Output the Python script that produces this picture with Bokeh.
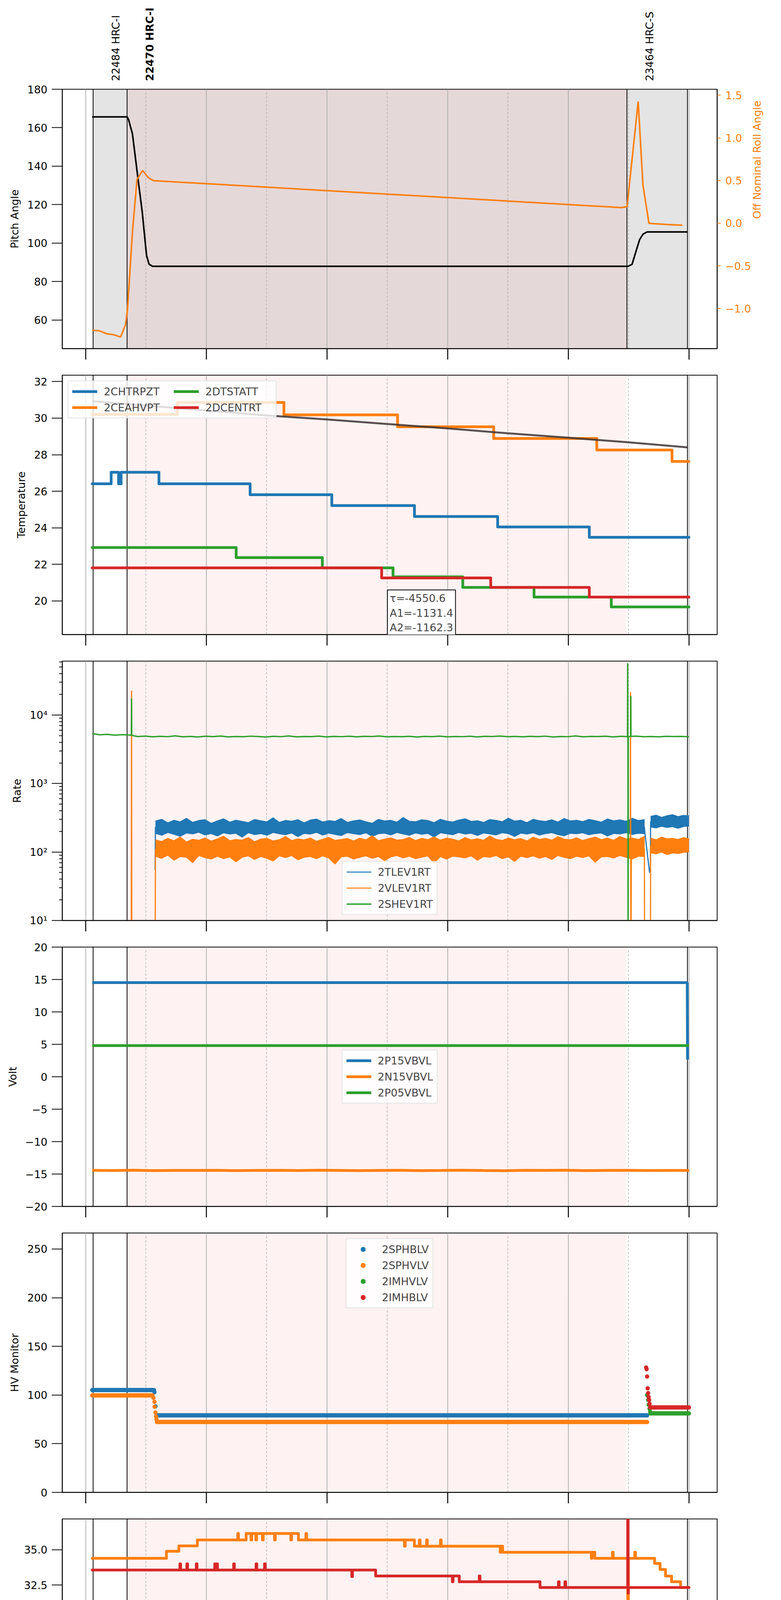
import math
import numpy as np
from bokeh.plotting import figure
from bokeh.models import (Range1d, LinearAxis, FixedTicker, Grid, BoxAnnotation,
                          Span, Label, Legend, LegendItem)
from bokeh.core.properties import value
from bokeh.layouts import column
from bokeh.embed import file_html
from bokeh.resources import INLINE

FONT = "DejaVu Sans"
BLUE, ORANGE, GREEN, RED = "#1f77b4", "#ff7f0e", "#2ca02c", "#d62728"

# time axis, hours since 2021-03-22 00:00
X_LIMITS = (21.612, 32.466)
MAJOR_HOURS = [22, 24, 26, 28, 30, 32]
MAJOR_LABELS = ["22h", "00h", "02h", "04h", "06h", "08h"]
MINOR_HOURS = [23, 25, 27, 29, 31]
MINOR_LABELS = ["23h", "01h", "03h", "05h", "07h"]
T_END = 31.998
DATE_LABEL = "2021-03-23 (082)"

# obsids
OBS_START = [22.123, 22.686, 30.971]
OBS_END = 31.974
OBS_NAMES = ["22484 HRC-I", "22470 HRC-I", "23464 HRC-S"]
OBS_BOLD = [False, True, False]

# panel 1: pitch / roll
PITCH_T = [22.106, 22.686, 22.710, 22.775, 22.828, 22.882, 22.937, 22.969, 23.008, 23.05,
           23.107, 30.99, 31.055, 31.123, 31.18, 31.237, 31.305, 31.974]
PITCH_V = [165.6, 165.6, 164.3, 156.8, 143.3, 129.7, 116.2, 106.0, 93.7, 89.0,
           87.9, 87.9, 88.9, 95.9, 101.7, 104.6, 105.8, 105.8]
ROLL_T = [22.107, 22.223, 22.347, 22.471, 22.578, 22.660, 22.693, 22.775, 22.850, 22.943,
          23.038, 23.124, 30.880, 30.973, 31.157, 31.236, 31.335, 31.405, 31.664, 31.890]
ROLL_V = [-1.255, -1.26, -1.295, -1.308, -1.334, -1.19, -1.005, -0.10, 0.511, 0.618,
          0.534, 0.499, 0.183, 0.194, 1.427, 0.45, 0.0, -0.005, -0.016, -0.023]

# panel 2: temperatures
CHTRPZT_T = [22.108, 22.422, 22.545, 22.587, 23.214, 24.725, 26.079, 27.449, 28.828, 30.347]
CHTRPZT_V = [26.41, 27.04, 26.41, 27.04, 26.41, 25.81, 25.22, 24.62, 24.05, 23.48]
CEAHVPT_T = [22.108, 23.52, 25.286, 27.169, 28.762, 30.471, 31.718]
CEAHVPT_V = [30.20, 30.86, 30.18, 29.53, 28.89, 28.26, 27.63]
DTSTATT_T = [22.108, 24.494, 25.922, 27.094, 28.25, 29.431, 30.711]
DTSTATT_V = [22.92, 22.37, 21.81, 21.32, 20.74, 20.21, 19.67]
DCENTRT_T = [22.108, 26.905, 28.713, 30.347]
DCENTRT_V = [21.81, 21.26, 20.74, 20.21]
MODEL_T = [22.108, 24.0, 24.997, 25.996, 27.003, 28.002, 29.002, 30.0, 30.991, 31.974]
MODEL_V = [30.93, 30.42, 30.15, 29.93, 29.68, 29.44, 29.17, 28.93, 28.68, 28.40]
FIT_TEXT = "τ=-4550.6\nA1=-1131.4\nA2=-1162.3"
FIT_POS = (27.0, 20.6)

# panel 3: rates
TLEV_A = (23.156, 31.264)
TLEV_A_HI = [282, 300, 266, 290, 275, 310, 270, 288, 296, 262, 284, 305, 272, 291, 279, 268,
             298, 286, 275, 315, 270, 289, 281, 296, 266, 292, 302, 274, 287, 279, 308, 270,
             285, 293, 276, 262, 299, 284, 290, 272, 318, 281, 276, 295, 288, 268, 300, 283,
             274, 292, 305, 279, 286, 270, 297, 289, 276, 312, 282, 291, 268, 300, 286, 279,
             295, 273, 308, 284, 290, 277, 299, 287, 272, 303, 285, 294, 280, 310, 288, 296]
TLEV_A_LO = [188, 176, 193, 182, 170, 190, 184, 195, 178, 186, 172, 191, 183, 188, 165, 192,
             180, 186, 176, 193, 185, 179, 190, 168, 187, 183, 194, 177, 189, 181, 174, 192,
             186, 180, 191, 170, 185, 189, 178, 193, 184, 176, 190, 182, 187, 166, 191, 185,
             179, 193, 183, 188, 175, 190, 184, 178, 192, 186, 169, 189, 183, 191, 177, 186,
             192, 180, 173, 188, 185, 191, 179, 186, 190, 172, 187, 184, 192, 181, 188, 185]
TLEV_B = (31.363, 31.998)
TLEV_B_HI = [330, 345, 320, 338, 350, 328, 342, 336]
TLEV_B_LO = [232, 225, 238, 228, 235, 222, 236, 240]
TLEV_EDGE_T = [23.150, 23.156, 31.26, 31.27, 31.346, 31.36, 31.363]
TLEV_EDGE_V = [55, 231, 231, 185, 50, 60, 280]
VLEV_A_HI = [150, 142, 158, 146, 165, 140, 153, 148, 160, 144, 155, 170, 146, 152, 149, 162,
             141, 154, 158, 145, 151, 168, 147, 155, 150, 160, 143, 153, 163, 148, 152, 157,
             145, 159, 150, 172, 146, 154, 161, 149, 152, 163, 147, 158, 151, 166, 149, 159,
             154, 145, 162, 150, 156, 148, 171, 153, 147, 160, 151, 157, 145, 164, 152, 158,
             149, 167, 154, 150, 161, 147, 156, 165, 151, 159, 148, 168, 155, 160, 152, 170]
VLEV_A_LO = [87, 81, 90, 76, 86, 84, 70, 89, 83, 79, 87, 80, 85, 72, 84, 88, 78, 86, 81, 74,
             88, 83, 89, 77, 84, 86, 80, 88, 82, 67, 85, 87, 79, 84, 88, 81, 86, 75, 85, 89,
             82, 87, 80, 84, 88, 69, 86, 79, 87, 85, 82, 88, 76, 86, 84, 89, 80, 85, 73, 87,
             83, 88, 81, 86, 78, 89, 84, 80, 87, 83, 88, 71, 85, 86, 82, 89, 84, 79, 87, 86]
VLEV_B_HI = [160, 150, 165, 155, 158, 152, 162, 155]
VLEV_B_LO = [98, 94, 100, 92, 97, 95, 99, 101]
VLEV_EDGE_T = [22.755, 22.76, 22.765, 23.150, 23.156, 31.027, 31.03, 31.036, 31.045,
               31.26, 31.265, 31.36, 31.363]
VLEV_EDGE_V = [1, 22700, 1, 1, 110, 110, 21600, 1, 120, 110, 1, 1, 123]
SHEV_V = [5350, 5150, 5220, 5080, 5160, 5100, 4850, 4920, 4800, 4890, 4830, 4960, 4810, 4870,
          4780, 4900, 4840, 4930, 4790, 4860, 4820, 4910, 4850, 4770, 4880, 4830, 4950, 4800,
          4860, 4840, 4920, 4790, 4870, 4830, 4900, 4810, 4880, 4850, 4940, 4800, 4860, 4820,
          4890, 4780, 4870, 4840, 4920, 4810, 4860, 4830, 4900, 4790, 4880, 4850, 4930, 4820,
          4870, 4800, 4890, 4840, 4910, 4780, 4860, 4830, 4950, 4810, 4870, 4850, 4900, 4790,
          4880, 4840, 4920, 4820, 4860, 4800, 4890, 4850, 4870, 4830]
SHEV_SPIKES = [(22.76, 17400), (30.983, 57000), (30.99, 1), (31.035, 19000)]

# panel 4: voltages
P15_T = [22.108, 31.970, 31.975]
P15_V = [14.52, 14.52, 2.65]
P05_T = [22.108, 31.998]
P05_V = [4.8, 4.8]
N15_V = [-14.43, -14.46, -14.42, -14.47, -14.44, -14.45, -14.43, -14.48, -14.44, -14.43,
         -14.46, -14.42, -14.45, -14.48, -14.44, -14.43, -14.47, -14.45, -14.42, -14.46,
         -14.49, -14.43, -14.45, -14.42, -14.47, -14.44, -14.43, -14.46, -14.44, -14.45]

# panel 5: HV monitors (plateaus + transition samples)
SPHBLV_SEG = ([22.108, 23.19], [23.132, 31.305], [105.1, 79.1])
SPHBLV_PTS = ([23.14, 23.156], [103.0, 88.4])
SPHVLV_SEG = ([22.108, 23.18], [23.107, 31.305], [99.6, 72.3])
SPHVLV_PTS = ([23.123, 23.140, 23.142, 23.156, 23.165, 23.173], [97, 93, 88, 82, 78, 75])
IMHVLV_SEG = ([31.36], [31.998], [81.1])
IMHVLV_PTS = ([31.305, 31.322, 31.33, 31.346, 31.355], [100, 95, 90, 86, 83])
IMHBLV_SEG = ([31.355], [31.998], [87.3])
IMHBLV_PTS = ([31.289, 31.297, 31.305, 31.314, 31.322, 31.33, 31.338, 31.346],
              [128.3, 126.5, 119, 106.9, 102, 98, 95, 91])

# panel 6: detector temperatures
SPINATM_T = [22.108, 28.415, 31.222]
SPINATM_V = [20.99, 20.30, 19.62]
SPINATM_SPIKES = [(28.30, 20.30)]
SPHVATM_T = [22.108, 23.338, 23.544, 23.85, 24.659, 25.526, 27.449, 28.911, 30.438, 31.429,
             31.52, 31.61, 31.71, 31.86]
SPHVATM_V = [34.39, 34.89, 35.27, 35.69, 36.15, 35.69, 35.25, 34.82, 34.39, 34.03,
             33.60, 33.13, 32.73, 32.32]
SPHVATM_SPIKES = [(24.52, 36.15), (24.74, 35.69), (24.82, 35.69), (24.93, 35.69), (25.13, 35.69),
                  (25.40, 35.69), (25.65, 36.15), (27.284, 35.25), (27.53, 35.69), (27.65, 35.69),
                  (27.88, 35.69), (28.87, 34.82), (30.38, 34.39), (30.73, 34.82), (30.983, 0.0),
                  (31.10, 34.82)]
IMINATM_T = [22.108, 25.40, 27.672, 27.72, 27.80, 29.654, 31.83]
IMINATM_V = [22.41, 21.70, 20.99, 21.70, 20.99, 20.26, 19.62]
IMINATM_SPIKES = [(25.32, 21.70), (29.32, 20.26), (31.69, 19.62), (30.983, 0.0)]
IMHVATM_T = [22.108, 26.806, 28.192, 29.53, 30.991, 31.61]
IMHVATM_V = [33.56, 33.14, 32.73, 32.32, 31.93, 32.32]
IMHVATM_SPIKES = [(23.561, 34.0), (23.677, 34.0), (23.833, 34.0), (24.139, 34.0), (24.172, 34.0),
                  (24.452, 34.0), (24.824, 34.0), (24.964, 34.0), (26.41, 33.1), (28.077, 32.73),
                  (28.523, 33.14), (29.835, 32.73), (29.943, 32.73), (30.983, 45.0)]

# panel 7: FEA temperatures
FHTRMZT_T = [22.108, 23.487, 24.246, 25.014, 25.815, 26.64, 27.524, 28.456, 29.472, 30.62]
FHTRMZT_V = [25.80, 25.22, 24.64, 24.05, 23.48, 22.92, 22.35, 21.82, 21.27, 20.72]
FRADPYT_T = [22.108, 23.09, 23.338, 23.71, 24.23, 24.865, 25.567, 26.294, 27.094, 27.936,
             28.853, 29.918, 31.115, 31.363]
FRADPYT_V = [21.26, 20.74, 20.22, 19.69, 19.17, 18.65, 18.15, 17.65, 17.15, 16.66,
             16.19, 15.71, 15.24, 15.71]
FEPRATM_T = [22.108, 24.139, 25.36, 26.599, 27.903, 29.39, 31.165]
FEPRATM_V = [26.97, 26.17, 25.39, 24.64, 23.89, 23.14, 22.42]
FEPRATM_SPIKES = [(27.82, 23.89), (31.47, 23.2), (30.983, 40.0)]
FE00ATM_T = [22.108, 23.297, 23.90, 24.452, 25.03, 25.567, 26.186, 26.806, 27.466, 28.11,
             28.853, 29.61, 30.438, 31.47]
FE00ATM_V = [24.95, 24.62, 24.29, 23.95, 23.62, 23.30, 22.99, 22.66, 22.34, 22.02,
             21.71, 21.39, 21.09, 20.79]
FE00ATM_SPIKES = [(23.379, 23.9), (23.454, 25.0), (23.726, 24.2), (23.998, 23.9), (24.064, 24.7),
                  (24.700, 24.3), (24.741, 23.6), (25.097, 24.7), (25.650, 24.0), (25.856, 24.0),
                  (26.500, 22.6), (26.599, 23.6), (26.847, 24.0), (27.119, 22.0), (27.317, 22.3),
                  (27.821, 22.0), (28.275, 23.0), (28.349, 21.7), (28.605, 22.7), (28.671, 20.4),
                  (28.944, 22.7), (28.968, 21.3), (29.216, 22.4), (29.323, 21.9), (30.504, 21.8),
                  (30.587, 21.3), (30.702, 22.1), (30.785, 20.7), (30.925, 21.8), (31.148, 20.7),
                  (31.247, 20.7), (31.445, 20.1), (31.594, 21.8), (31.734, 21.1), (31.842, 21.1),
                  (31.965, 21.1), (30.983, 0.0)]

W = 1984
LEFT, RIGHT = 159, 148
HEADER_H = 208
XR = Range1d(*X_LIMITS)


def steps(t, v, spikes=(), dt=0.012):
    xs = list(t) + [T_END]
    ys = list(v) + [v[-1]]
    for st, sv in spikes:
        base = v[int(np.searchsorted(t, st, side="right")) - 1]
        xs += [st, st + dt]
        ys += [sv, base]
    order = np.argsort(xs, kind="stable")
    return np.array(xs)[order], np.array(ys)[order]


def line_spikes(t, v, spikes, eps=0.003):
    xs, ys = list(t), list(v)
    for st, sv in spikes:
        b = float(np.interp(st, t, v))
        xs += [st - eps, st, st + eps]
        ys += [b, sv, b]
    order = np.argsort(xs, kind="stable")
    return np.array(xs)[order], np.array(ys)[order]


def style_axis(ax):
    ax.axis_line_color = "black"
    ax.axis_line_width = 2
    ax.major_tick_line_color = "black"
    ax.major_tick_line_width = 2
    ax.minor_tick_line_color = "black"
    ax.minor_tick_line_width = 2
    ax.major_tick_in = 0
    ax.minor_tick_in = 0
    ax.minor_tick_out = 0
    ax.major_label_text_font = FONT
    ax.major_label_text_font_size = "27px"
    ax.major_label_text_color = "black"
    ax.axis_label_text_font = FONT
    ax.axis_label_text_font_size = "27px"
    ax.axis_label_text_font_style = "normal"
    ax.axis_label_text_color = "black"


def make_fig(y_range, label, ticks, height, top, bottom, y_type="linear", overrides=None):
    p = figure(width=W, height=height, x_range=XR, y_range=y_range, y_axis_type=y_type,
               x_axis_location=None, toolbar_location=None, output_backend="svg",
               min_border_left=LEFT, min_border_right=RIGHT,
               min_border_top=top, min_border_bottom=bottom)
    p.outline_line_color = "black"
    p.outline_line_width = 2
    p.grid.visible = False
    ax = p.yaxis[0]
    style_axis(ax)
    ax.ticker = FixedTicker(ticks=ticks)
    ax.major_tick_out = 27
    ax.major_label_standoff = 11
    ax.axis_label = label
    ax.axis_label_standoff = 14
    if overrides:
        ax.major_label_overrides = overrides
    return p


def decorate(p, first=False):
    if first:
        p.add_layout(BoxAnnotation(left=OBS_START[0], right=OBS_END, fill_color="#808080",
                                   fill_alpha=0.21, line_color=None, level="underlay"))
    p.add_layout(BoxAnnotation(left=OBS_START[1], right=OBS_START[2], fill_color="#ff0000",
                               fill_alpha=0.05, line_color=None, level="underlay"))
    p.add_layout(Grid(dimension=0, ticker=FixedTicker(ticks=MAJOR_HOURS, minor_ticks=MINOR_HOURS),
                      grid_line_color="#b0b0b0", grid_line_width=2,
                      minor_grid_line_color="#b0b0b0", minor_grid_line_width=1.5,
                      minor_grid_line_dash="6 4"))
    spans = OBS_START + [OBS_END] if first else [OBS_START[0], OBS_START[1], OBS_END]
    for t in spans:
        p.add_layout(Span(location=t, dimension="height", line_color="black",
                          line_width=2, level="underlay"))


def x_axes(p, labels=False):
    if not labels:
        ax = LinearAxis(ticker=FixedTicker(ticks=[], minor_ticks=MAJOR_HOURS))
        style_axis(ax)
        ax.major_tick_out = 0
        ax.minor_tick_out = 28
        ax.minor_tick_line_width = 2.5
        p.add_layout(ax, "below")
        return
    ax1 = LinearAxis(ticker=FixedTicker(ticks=MINOR_HOURS, minor_ticks=MAJOR_HOURS))
    style_axis(ax1)
    ax1.major_tick_out = 0
    ax1.minor_tick_out = 28
    ax1.minor_tick_line_width = 2.5
    ax1.major_label_text_font_size = "19px"
    ax1.major_label_standoff = 4
    ax1.major_label_overrides = dict(zip(MINOR_HOURS, MINOR_LABELS))
    p.add_layout(ax1, "below")
    ax2 = LinearAxis(ticker=FixedTicker(ticks=MAJOR_HOURS))
    style_axis(ax2)
    ax2.axis_line_color = None
    ax2.major_tick_out = 0
    ax2.major_label_standoff = 2
    ax2.major_label_overrides = dict(zip(MAJOR_HOURS, MAJOR_LABELS))
    ax2.axis_label = DATE_LABEL
    ax2.axis_label_text_font_size = "33px"
    ax2.axis_label_standoff = 6
    p.add_layout(ax2, "below")


def add_legend(p, items, location, ncols=1, label_width=20):
    lg = Legend(items=[LegendItem(label=l, renderers=[r]) for l, r in items],
                location=location, ncols=ncols, label_width=label_width,
                label_text_font=FONT, label_text_font_size="27px", label_height=32,
                glyph_height=32, glyph_width=64, label_standoff=17, spacing=9, padding=10,
                margin=14, border_line_color="#cccccc", border_line_width=2,
                background_fill_color="white", background_fill_alpha=0.8)
    p.add_layout(lg)


def step_line(p, xy, color, width=7):
    return p.step(xy[0], xy[1], mode="after", line_color=color, line_width=width,
                  line_join="round", line_cap="round")


# ---- header with obsid names
p0 = figure(width=W, height=HEADER_H, x_range=XR, y_range=Range1d(0, HEADER_H),
            x_axis_location=None, y_axis_location=None, toolbar_location=None,
            output_backend="svg", min_border_left=LEFT, min_border_right=RIGHT,
            min_border_top=0, min_border_bottom=0, outline_line_color=None)
p0.grid.visible = False
LABEL_SHIFT = 0.375   # hours between obsid start line and label baseline
for t, name, bold in zip(OBS_START, OBS_NAMES, OBS_BOLD):
    p0.text(x=[t + LABEL_SHIFT], y=[1], text=[name], angle=math.pi / 2,
            text_font=value(FONT), text_font_size="27px",
            text_font_style="bold" if bold else "normal",
            text_align="left", text_baseline="alphabetic", text_color="black")

# ---- panel 1
p1 = make_fig(Range1d(45.07, 180), "Pitch Angle", [60, 80, 100, 120, 140, 160, 180],
              724, 20, 40)
decorate(p1, first=True)
p1.extra_y_ranges = {"roll": Range1d(-1.47, 1.57)}
rax = LinearAxis(y_range_name="roll", axis_label="Off Nominal Roll Angle")
style_axis(rax)
rax.ticker = FixedTicker(ticks=[-1.0, -0.5, 0.0, 0.5, 1.0, 1.5])
rax.major_label_overrides = {-1.0: "−1.0", -0.5: "−0.5", 0.0: "0.0", 0.5: "0.5",
                             1.0: "1.0", 1.5: "1.5"}
rax.major_tick_out = 9
rax.major_tick_line_color = ORANGE
rax.major_label_text_color = ORANGE
rax.axis_label_text_color = ORANGE
rax.major_label_standoff = 12
rax.axis_label_standoff = 12
rax.axis_label_orientation = math.pi / 2
p1.add_layout(rax, "right")
p1.line(PITCH_T, PITCH_V, line_color="black", line_width=4)
p1.line(ROLL_T, ROLL_V, line_color=ORANGE, line_width=4, y_range_name="roll")
x_axes(p1)

# ---- panel 2
p2 = make_fig(Range1d(18.16, 32.35), "Temperature", [20, 22, 24, 26, 28, 30, 32], 732, 28, 40)
decorate(p2)
r_a = step_line(p2, steps(CHTRPZT_T, CHTRPZT_V), BLUE)
r_b = step_line(p2, steps(CEAHVPT_T, CEAHVPT_V), ORANGE)
r_c = step_line(p2, steps(DTSTATT_T, DTSTATT_V), GREEN)
r_d = step_line(p2, steps(DCENTRT_T, DCENTRT_V), RED)
p2.line(MODEL_T, MODEL_V, line_color="#3c3434", line_width=5, line_alpha=0.85)
add_legend(p2, [("2CHTRPZT", r_a), ("2CEAHVPT", r_b), ("2DTSTATT", r_c), ("2DCENTRT", r_d)],
           "top_left", ncols=2, label_width=170)
p2.add_layout(Label(x=FIT_POS[0], y=FIT_POS[1], text=FIT_TEXT, text_font=FONT,
                    text_font_size="27px", text_align="left", text_baseline="top",
                    text_line_height=1.2, background_fill_color="white",
                    border_line_color="black", border_line_width=2, padding=6))
x_axes(p2)

# ---- panel 3
p3 = make_fig(Range1d(10, 61200), "Rate", [10, 100, 1000, 10000], 732, 28, 40, y_type="log",
              overrides={10: "10¹", 100: "10²", 1000: "10³", 10000: "10⁴"})
minor = [m * d for d in (10, 100, 1000, 10000) for m in range(2, 10)]
p3.yaxis[0].ticker = FixedTicker(ticks=[10, 100, 1000, 10000], minor_ticks=minor)
p3.yaxis[0].minor_tick_out = 8
decorate(p3)


def band(p, span, hi, lo, color):
    n = min(len(hi), len(lo))
    tt = np.linspace(span[0], span[1], n)
    p.varea(x=tt, y1=lo[:n], y2=hi[:n], fill_color=color)
    p.line(tt, lo[:n], line_color=color, line_width=2.5)
    return p.line(tt, hi[:n], line_color=color, line_width=2.5)


r_t = band(p3, TLEV_A, TLEV_A_HI, TLEV_A_LO, BLUE)
band(p3, TLEV_B, TLEV_B_HI, TLEV_B_LO, BLUE)
p3.line(TLEV_EDGE_T, TLEV_EDGE_V, line_color=BLUE, line_width=3)
r_v = band(p3, TLEV_A, VLEV_A_HI, VLEV_A_LO, ORANGE)
band(p3, TLEV_B, VLEV_B_HI, VLEV_B_LO, ORANGE)
p3.line(VLEV_EDGE_T, VLEV_EDGE_V, line_color=ORANGE, line_width=3)
gx, gy = line_spikes(np.linspace(22.108, T_END, len(SHEV_V)), SHEV_V, SHEV_SPIKES)
r_s = p3.line(gx, gy, line_color=GREEN, line_width=3.5)
add_legend(p3, [("2TLEV1RT", r_t), ("2VLEV1RT", r_v), ("2SHEV1RT", r_s)], "bottom_center")
x_axes(p3)

# ---- panel 4
p4 = make_fig(Range1d(-20, 20), "Volt", [-20, -15, -10, -5, 0, 5, 10, 15, 20], 732, 28, 40,
              overrides={-20: "−20", -15: "−15", -10: "−10", -5: "−5"})
decorate(p4)
r_p15 = p4.line(P15_T, P15_V, line_color=BLUE, line_width=7)
r_n15 = p4.line(np.linspace(22.108, T_END, len(N15_V)), N15_V, line_color=ORANGE, line_width=7)
r_p05 = p4.line(P05_T, P05_V, line_color=GREEN, line_width=7)
add_legend(p4, [("2P15VBVL", r_p15), ("2N15VBVL", r_n15), ("2P05VBVL", r_p05)], "center")
x_axes(p4)

# ---- panel 5
p5 = make_fig(Range1d(0, 266.4), "HV Monitor", [0, 50, 100, 150, 200, 250], 732, 28, 40)
decorate(p5)
hv_items = []
for name, seg, pts, color in [("2SPHBLV", SPHBLV_SEG, SPHBLV_PTS, BLUE),
                              ("2SPHVLV", SPHVLV_SEG, SPHVLV_PTS, ORANGE),
                              ("2IMHVLV", IMHVLV_SEG, IMHVLV_PTS, GREEN),
                              ("2IMHBLV", IMHBLV_SEG, IMHBLV_PTS, RED)]:
    p5.segment(x0=seg[0], x1=seg[1], y0=seg[2], y1=seg[2], line_color=color,
               line_width=11, line_cap="round")
    r = p5.scatter(pts[0], pts[1], size=11, fill_color=color, line_color=None)
    hv_items.append((name, r))
add_legend(p5, hv_items, "top_center")
x_axes(p5)

# ---- panel 6
p6 = make_fig(Range1d(18.8, 37.18), "Detector Temp", [20, 22.5, 25, 27.5, 30, 32.5, 35],
              732, 28, 40,
              overrides={20: "20.0", 22.5: "22.5", 25: "25.0", 27.5: "27.5", 30: "30.0",
                         32.5: "32.5", 35: "35.0"})
decorate(p6)
r6a = step_line(p6, steps(SPINATM_T, SPINATM_V, SPINATM_SPIKES), BLUE)
r6b = step_line(p6, steps(SPHVATM_T, SPHVATM_V, SPHVATM_SPIKES), ORANGE)
r6c = step_line(p6, steps(IMINATM_T, IMINATM_V, IMINATM_SPIKES), GREEN)
r6d = step_line(p6, steps(IMHVATM_T, IMHVATM_V, IMHVATM_SPIKES), RED)
add_legend(p6, [("2SPINATM", r6a), ("2SPHVATM", r6b), ("2IMINATM", r6c), ("2IMHVATM", r6d)],
           "center")
x_axes(p6)

# ---- panel 7
p7 = make_fig(Range1d(14.66, 27.67), "FEA Temp", [16, 18, 20, 22, 24, 26], 798, 28, 106)
decorate(p7)
r7a = step_line(p7, steps(FHTRMZT_T, FHTRMZT_V), BLUE)
r7b = step_line(p7, steps(FRADPYT_T, FRADPYT_V), ORANGE)
r7c = step_line(p7, steps(FEPRATM_T, FEPRATM_V, FEPRATM_SPIKES), GREEN)
r7d = step_line(p7, steps(FE00ATM_T, FE00ATM_V, FE00ATM_SPIKES), RED)
add_legend(p7, [("2FHTRMZT", r7a), ("2FRADPYT", r7b), ("2FEPRATM", r7c), ("2FE00ATM", r7d)],
           "bottom_left")
x_axes(p7, labels=True)

page = column(p0, p1, p2, p3, p4, p5, p6, p7)
open("out.html", "w").write(file_html(page, INLINE))
